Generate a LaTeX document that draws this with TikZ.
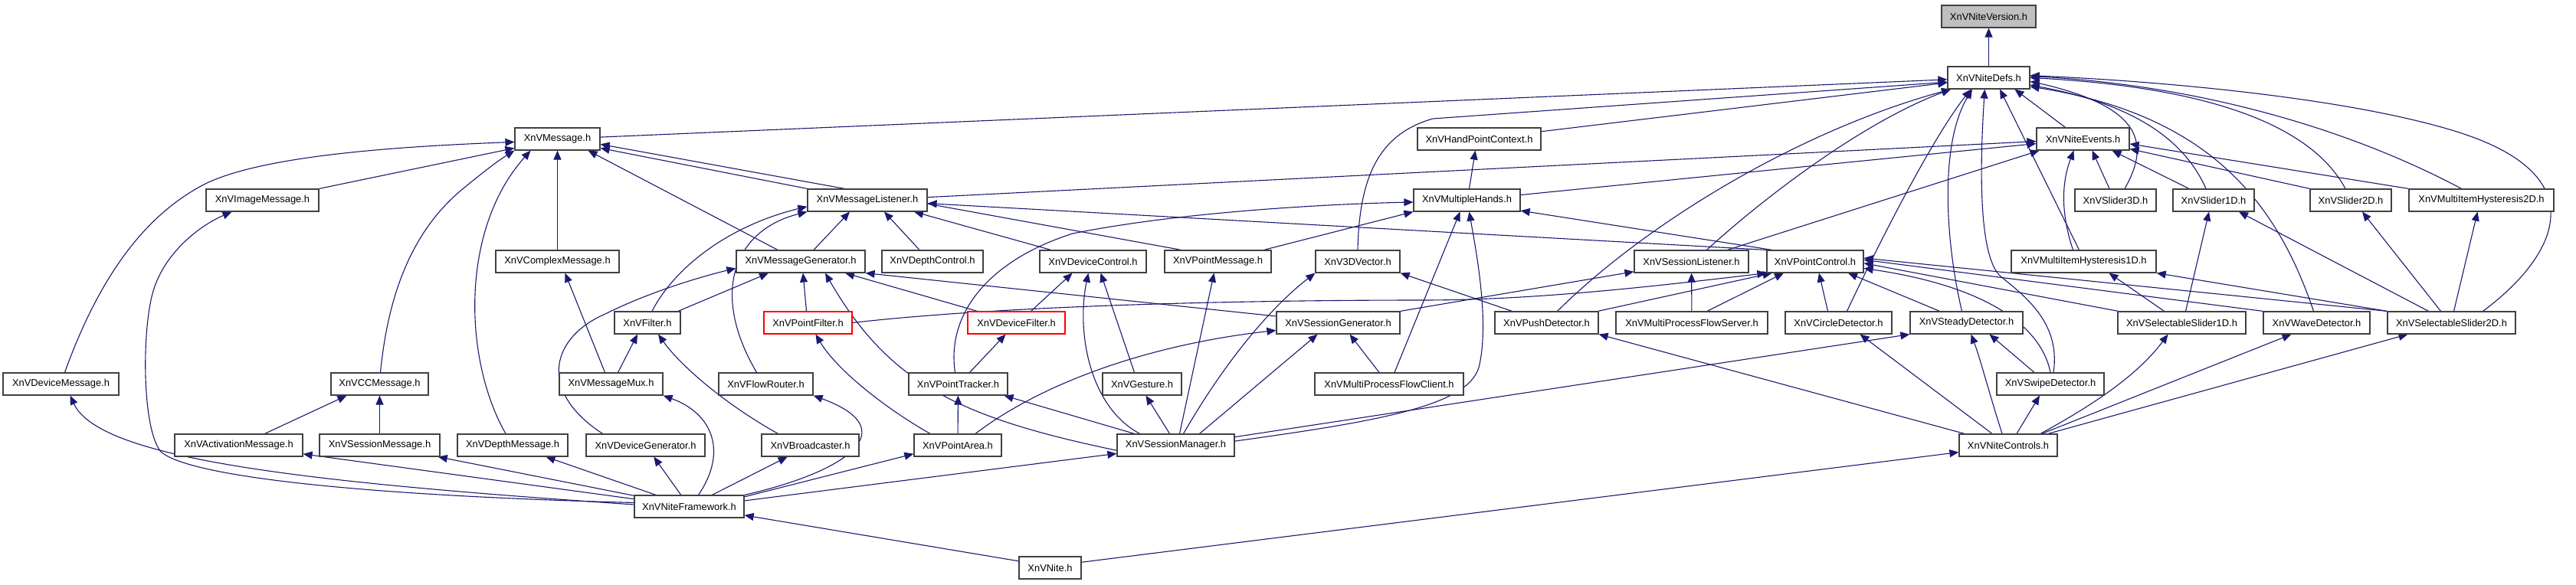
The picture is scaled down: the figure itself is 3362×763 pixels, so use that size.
\documentclass[tikz,border=0pt]{standalone}
\usepackage{fontspec}
\setmainfont{Liberation Sans}
\usetikzlibrary{arrows.meta,backgrounds}
\definecolor{navyc}{RGB}{25,25,112}
\definecolor{boxc}{RGB}{64,64,64}
\definecolor{verc}{RGB}{191,191,191}
\newcommand{\bx}[5]{\node[box,minimum width=#4pt] (#1) at (#2,#3) {#5};}
\begin{document}
\begin{tikzpicture}[x=1pt,y=-1pt,
  box/.style={draw=boxc,line width=1.2pt,fill=white,minimum height=29pt,inner sep=0pt,font=\fontsize{12.9}{15}\selectfont},
  redbox/.style={box,draw=red},
  dep/.style={draw=navyc,line width=1.1pt,-{Triangle[length=12pt,width=10pt]}}]
\useasboundingbox (0,0) rectangle (3362,763);
\node[box,minimum width=123pt,fill=verc] (nver) at (2595.5,21.5) {XnVNiteVersion.h};
\bx{ndefs}{2595.5}{101.5}{107}{XnVNiteDefs.h}
\bx{msg}{727.5}{181.5}{111}{XnVMessage.h}
\bx{hpc}{1930.5}{181.5}{161}{XnVHandPointContext.h}
\bx{nev}{2718.5}{181.5}{121}{XnVNiteEvents.h}
\bx{img}{342.5}{261.5}{147}{XnVImageMessage.h}
\bx{mlis}{1132}{261.5}{156}{XnVMessageListener.h}
\bx{mh}{1914.5}{261.5}{139}{XnVMultipleHands.h}
\bx{s3d}{2761}{261.5}{106}{XnVSlider3D.h}
\bx{s1d}{2889}{261.5}{106}{XnVSlider1D.h}
\bx{s2d}{3068}{261.5}{106}{XnVSlider2D.h}
\bx{mih2}{3238.5}{261.5}{189}{XnVMultiItemHysteresis2D.h}
\bx{cmsg}{727.5}{341.5}{161}{XnVComplexMessage.h}
\bx{mgen}{1045}{341.5}{168}{XnVMessageGenerator.h}
\bx{dctl}{1217}{341.5}{132}{XnVDepthControl.h}
\bx{devc}{1426.5}{341.5}{139}{XnVDeviceControl.h}
\bx{pmsg}{1589.5}{341.5}{139}{XnVPointMessage.h}
\bx{v3d}{1772}{341.5}{110}{XnV3DVector.h}
\bx{slis}{2207.5}{341.5}{149}{XnVSessionListener.h}
\bx{pctl}{2369}{341.5}{126}{XnVPointControl.h}
\bx{mih1}{2719.5}{341.5}{189}{XnVMultiItemHysteresis1D.h}
\bx{filt}{845}{421.5}{86}{XnVFilter.h}
\node[redbox,minimum width=115pt] (pfilt) at (1054.5,421.5) {XnVPointFilter.h};
\node[redbox,minimum width=127pt] (dfilt) at (1326.5,421.5) {XnVDeviceFilter.h};
\bx{sgen}{1746.5}{421.5}{161}{XnVSessionGenerator.h}
\bx{push}{2018.5}{421.5}{135}{XnVPushDetector.h}
\bx{mpfs}{2208}{421.5}{198}{XnVMultiProcessFlowServer.h}
\bx{circ}{2399.5}{421.5}{139}{XnVCircleDetector.h}
\bx{steady}{2566.5}{421.5}{147}{XnVSteadyDetector.h}
\bx{ss1}{2847.5}{421.5}{167}{XnVSelectableSlider1D.h}
\bx{wave}{3023.5}{421.5}{139}{XnVWaveDetector.h}
\bx{ss2}{3199.5}{421.5}{167}{XnVSelectableSlider2D.h}
\bx{devmsg}{79.5}{501.5}{151}{XnVDeviceMessage.h}
\bx{vcc}{495.5}{501.5}{127}{XnVCCMessage.h}
\bx{mux}{797.5}{501.5}{135}{XnVMessageMux.h}
\bx{frouter}{999.5}{501.5}{123}{XnVFlowRouter.h}
\bx{ptrack}{1250.5}{501.5}{129}{XnVPointTracker.h}
\bx{gest}{1490.5}{501.5}{103}{XnVGesture.h}
\bx{mpfc}{1813}{501.5}{194}{XnVMultiProcessFlowClient.h}
\bx{swipe}{2676}{501.5}{140}{XnVSwipeDetector.h}
\bx{act}{311.5}{581.5}{167}{XnVActivationMessage.h}
\bx{smsg}{495.5}{581.5}{157}{XnVSessionMessage.h}
\bx{dmsg}{669}{581.5}{144}{XnVDepthMessage.h}
\bx{dgen}{842.5}{581.5}{155}{XnVDeviceGenerator.h}
\bx{bcast}{1057.5}{581.5}{127}{XnVBroadcaster.h}
\bx{parea}{1250}{581.5}{114}{XnVPointArea.h}
\bx{smgr}{1534.5}{581.5}{153}{XnVSessionManager.h}
\bx{nctl}{2621}{581.5}{128}{XnVNiteControls.h}
\bx{fw}{899.5}{661.5}{143}{XnVNiteFramework.h}
\bx{nite}{1370.5}{741.5}{81}{XnVNite.h}
\begin{scope}[on background layer]
% into NiteVersion / NiteDefs
\draw[dep] (ndefs) -- (nver);
\draw[dep] (msg) -- (ndefs);
\draw[dep] (hpc) -- (ndefs);
\draw[dep] (v3d.north) .. controls (1774,230) and (1800,175) .. (1870,155) -- (ndefs.186);
\draw[dep] ([xshift=20pt]slis.north) .. controls (2300,260) and (2430,160) .. (ndefs.197);
\draw[dep] ([xshift=14pt]push.north) .. controls (2150,290) and (2350,170) .. (ndefs.197);
\draw[dep] ([xshift=11pt]circ.north) .. controls (2470,280) and (2530,170) .. (ndefs.213);
\draw[dep] ([xshift=-6pt]steady.north) .. controls (2540,320) and (2530,190) .. (ndefs.215);
\draw[dep] ([xshift=4pt]swipe.north) .. controls (2690,420) and (2640,385) .. (2610,360) .. controls (2580,330) and (2585,200) .. (ndefs.251);
\draw[dep] ([xshift=-6pt]mih1.north) -- (ndefs.314);
\draw[dep] ([xshift=-23pt]nev.north) -- (ndefs.336);
\draw[dep] ([xshift=12pt]s3d.north) .. controls (2805,190) and (2800,140) .. (ndefs.355);
\draw[dep] ([xshift=-10pt]s1d.north) .. controls (2850,180) and (2780,135) .. (ndefs.350);
\draw[dep] ([xshift=-4pt]wave.north) .. controls (2970,260) and (2880,150) .. (ndefs.348);
\draw[dep] ([xshift=-7pt]s2d.north) .. controls (3020,170) and (2900,115) .. (ndefs.0);
\draw[dep] ([xshift=-26pt]mih2.north) .. controls (3050,160) and (2850,110) .. (ndefs.2);
\draw[dep] ([xshift=41pt]ss2.north) .. controls (3330,340) and (3400,230) .. (3200,170) .. controls (3050,125) and (2800,105) .. (ndefs.3);
% into NiteEvents
\draw[dep] (mlis) -- (nev);
\draw[dep] (mh) -- (nev);
\draw[dep] ([xshift=47pt]slis.north) -- ([xshift=-57pt]nev.south);
\draw[dep] ([xshift=-8pt]s3d.north) -- ([xshift=12pt]nev.south);
\draw[dep] ([xshift=-14pt]mih1.north) .. controls (2690,280) and (2690,240) .. ([xshift=-12pt]nev.south);
\draw[dep] ([xshift=-32pt]s1d.north) -- ([xshift=38pt]nev.south);
\draw[dep] (s2d.north west) -- (nev.348);
\draw[dep] (mih2.north west) -- (nev.354);
\draw[dep] ([xshift=3pt]mh.north) -- ([xshift=-5pt]hpc.south);
% into XnVMessage
\draw[dep] (img.north east) -- (msg.192);
\draw[dep] ([xshift=5pt]devmsg.north) .. controls (130,360) and (190,280) .. (268,240) .. controls (340,205) and (500,192) .. (msg.184);
\draw[dep] ([xshift=1pt]vcc.north) .. controls (505,400) and (530,310) .. (600,250) .. controls (630,225) and (650,210) .. (msg.south west);
\draw[dep] ([xshift=-9pt]dmsg.north) .. controls (605,470) and (600,300) .. ([xshift=-35pt]msg.south);
\draw[dep] (cmsg) -- (msg);
\draw[dep] ([xshift=-30pt]mgen.north) -- ([xshift=40pt]msg.south);
\draw[dep] (mlis.north west) -- (msg.348);
\draw[dep] ([xshift=-48pt]pmsg.north) -- (msg.353);
% into MessageListener
\draw[dep] ([xshift=17pt]mgen.north) -- ([xshift=-23pt]mlis.south);
\draw[dep] ([xshift=6pt]filt.north) .. controls (880,350) and (950,295) .. (mlis.186);
\draw[dep] ([xshift=-12pt]frouter.north) .. controls (925,380) and (960,300) .. (mlis.south west);
\draw[dep] ([xshift=-17pt]dctl.north) -- ([xshift=22pt]mlis.south);
\draw[dep] ([xshift=-55pt]devc.north) -- ([xshift=61pt]mlis.south);
\draw[dep] (pctl.north west) -- (mlis.357);
% into MultipleHands
\draw[dep] ([xshift=-4pt]ptrack.north) .. controls (1235,410) and (1290,340) .. (1400,305) .. controls (1550,275) and (1750,266) .. (mh.182);
\draw[dep] ([xshift=60pt]pmsg.north) -- (mh.south west);
\draw[dep] ([xshift=7pt]mpfc.north) -- ([xshift=-9pt]mh.south);
\draw[dep] (smgr.4) .. controls (1800,550) and (1915,530) .. (1930,480) .. controls (1945,420) and (1925,320) .. ([xshift=3pt]mh.south);
\draw[dep] (pctl.165) -- (mh.349);
% into V3DVector, PointMessage, DeviceControl
\draw[dep] ([xshift=10pt]smgr.north) .. controls (1600,470) and (1660,400) .. (v3d.south west);
\draw[dep] ([xshift=-45pt]push.north) -- (v3d.south east);
\draw[dep] ([xshift=5pt]smgr.north) -- ([xshift=-5pt]pmsg.south);
\draw[dep] ([xshift=19pt]dfilt.north) -- ([xshift=-27pt]devc.south);
\draw[dep] ([xshift=-47pt]smgr.north) .. controls (1420,530) and (1405,430) .. ([xshift=-6pt]devc.south);
\draw[dep] ([xshift=-10pt]gest.north) -- ([xshift=10pt]devc.south);
% into MessageGenerator
\draw[dep] ([xshift=-56pt]dgen.north) .. controls (700,510) and (720,440) .. (790,410) .. controls (850,380) and (920,360) .. (mgen.186);
\draw[dep] ([xshift=40pt]filt.north) -- ([xshift=-42pt]mgen.south);
\draw[dep] ([xshift=-2pt]pfilt.north) -- ([xshift=3pt]mgen.south);
\draw[dep] (smgr.185) .. controls (1250,545) and (1160,500) .. ([xshift=32pt]mgen.south);
\draw[dep] ([xshift=-51pt]dfilt.north) -- ([xshift=58pt]mgen.south);
\draw[dep] (sgen.174) -- (mgen.south east);
% Filter, ComplexMessage, PointFilter, DeviceFilter, PointTracker, Gesture
\draw[dep] ([xshift=9pt]mux.north) -- ([xshift=-13pt]filt.south);
\draw[dep] ([xshift=-42pt]bcast.north) .. controls (950,530) and (890,480) .. ([xshift=14pt]filt.south);
\draw[dep] ([xshift=-8pt]mux.north) -- ([xshift=10pt]cmsg.south);
\draw[dep] ([xshift=-36pt]parea.north) .. controls (1150,530) and (1090,480) .. ([xshift=10pt]pfilt.south);
\draw[dep] ([xshift=15pt]ptrack.north) -- ([xshift=-14pt]dfilt.south);
\draw[dep] (parea) -- (ptrack);
\draw[dep] ([xshift=-54pt]smgr.north) -- ([xshift=60pt]ptrack.south);
\draw[dep] ([xshift=-8pt]smgr.north) -- ([xshift=5pt]gest.south);
% SessionGenerator, SessionListener
\draw[dep] ([xshift=31pt]smgr.north) -- ([xshift=-27pt]sgen.south);
\draw[dep] ([xshift=23pt]parea.north) .. controls (1360,500) and (1500,450) .. (sgen.187);
\draw[dep] ([xshift=-13pt]mpfc.north) -- ([xshift=15pt]sgen.south);
\draw[dep] (sgen.north east) -- (slis.190);
\draw[dep] (mpfs) -- (slis);
% into PointControl
\draw[dep] (pfilt.east) .. controls (1300,400) and (1600,392) .. (1856,392) .. controls (2000,392) and (2150,375) .. (pctl.south west);
\draw[dep] ([xshift=67pt]push.north) -- (pctl.195);
\draw[dep] ([xshift=20pt]mpfs.north) -- ([xshift=-41pt]pctl.south);
\draw[dep] ([xshift=-14pt]circ.north) -- ([xshift=5pt]pctl.south);
\draw[dep] ([xshift=-35pt]steady.north) -- ([xshift=43pt]pctl.south);
\draw[dep] (swipe.north) .. controls (2665,430) and (2600,375) .. (pctl.352);
\draw[dep] ([xshift=-83pt]ss1.north) -- (pctl.358);
\draw[dep] (wave.north west) -- (pctl.2);
\draw[dep] (ss2.north west) -- (pctl.4);
% MultiItemHysteresis1D, sliders
\draw[dep] ([xshift=-23pt]ss1.north) -- ([xshift=33pt]mih1.south);
\draw[dep] (ss2.north west) -- (mih1.south east);
\draw[dep] ([xshift=5pt]ss1.north) -- ([xshift=-6pt]s1d.south);
\draw[dep] ([xshift=-30pt]ss2.north) -- ([xshift=33pt]s1d.south);
\draw[dep] ([xshift=-14pt]ss2.north) -- ([xshift=15pt]s2d.south);
\draw[dep] ([xshift=3pt]ss2.north) -- ([xshift=-5pt]mih2.south);
% SteadyDetector
\draw[dep] (smgr.8) -- (steady.south west);
\draw[dep] ([xshift=-21pt]swipe.north) -- ([xshift=30pt]steady.south);
\draw[dep] ([xshift=-8pt]nctl.north) .. controls (2595,510) and (2585,470) .. ([xshift=6pt]steady.south);
% NiteControls
\draw[dep] ([xshift=-57pt]nctl.north) -- (push.south east);
\draw[dep] ([xshift=-21pt]nctl.north) -- ([xshift=28pt]circ.south);
\draw[dep] ([xshift=11pt]nctl.north) -- ([xshift=-14pt]swipe.south);
\draw[dep] ([xshift=42pt]nctl.north) .. controls (2730,530) and (2790,490) .. ([xshift=-18pt]ss1.south);
\draw[dep] ([xshift=44pt]nctl.north) -- ([xshift=-33pt]wave.south);
\draw[dep] ([xshift=52pt]nctl.north) -- ([xshift=-57pt]ss2.south);
\draw[dep] (nite.10) -- (nctl.188);
\draw[dep] (nite.168) -- (fw.351);
% NiteFramework
\draw[dep] (fw.178) .. controls (400,630) and (130,600) .. ([xshift=12pt]devmsg.south);
\draw[dep] (fw.176) .. controls (500,648) and (250,625) .. (210,590) .. controls (185,560) and (185,430) .. (200,380) .. controls (215,330) and (260,295) .. ([xshift=-40pt]img.south);
\draw[dep] (fw) -- (act);
\draw[dep] (fw) -- (smsg);
\draw[dep] (fw) -- (dmsg);
\draw[dep] (fw) -- (dgen);
\draw[dep] ([xshift=12pt]fw.north) .. controls (950,590) and (930,540) .. (mux.south east);
\draw[dep] (fw) -- (bcast);
\draw[dep] (fw.north east) .. controls (1110,615) and (1180,560) .. (frouter.south east);
\draw[dep] (fw.10) -- (parea.191);
\draw[dep] (fw.6) -- (smgr.188);
% VCCMessage
\draw[dep] ([xshift=34pt]act.north) -- ([xshift=-43pt]vcc.south);
\draw[dep] (smsg) -- (vcc);
\end{scope}
\end{tikzpicture}
\end{document}
